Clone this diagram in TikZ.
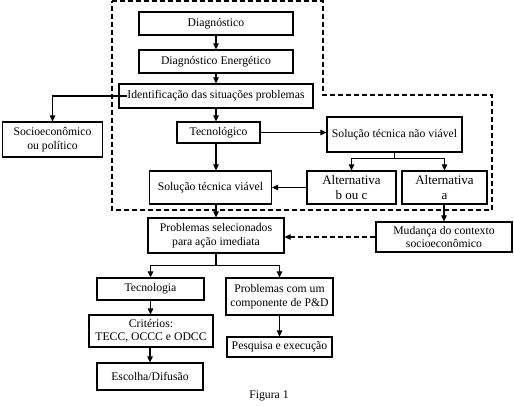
\documentclass[tikz,border=0pt]{standalone}
\usepackage{fontspec}
\setmainfont{LiberationSerif}[Extension=.ttf,UprightFont=*-Regular,BoldFont=*-Bold]
\usetikzlibrary{arrows.meta,calc}
\begin{document}
\begin{tikzpicture}[x=1pt,y=-1pt,
  box/.style={draw,line width=1.2pt,inner sep=0pt,align=center,font=\rmfamily\fontsize{11.7}{13.5}\selectfont},
  arr/.style={line width=1.1pt,-{Triangle[length=6pt,width=5.5pt]}},
  dline/.style={line width=1.1pt,dash pattern=on 5pt off 3pt}]
\useasboundingbox (0,0) rectangle (514,406);
\fill[white] (0,0) rectangle (514,406);
% dashed region
\draw[dline] (112,1) -- (323,1) -- (323,95) -- (492,95) -- (492,210) -- (112,210) -- cycle;
% boxes
\node[box,minimum width=154pt,minimum height=23pt] (diag) at (216,23.5) {Diagnóstico};
\node[box,minimum width=154pt,minimum height=23pt] (diagE) at (216,61.5) {Diagnóstico Energético};
\node[box,minimum width=194pt,minimum height=24pt,fill=white] (ident) at (216,96) {Identificação das situações problemas};
\node[box,minimum width=100pt,minimum height=35pt] (socio) at (52.5,139.5) {Socioeconômico\\ou político};
\node[box,minimum width=83pt,minimum height=21pt] (tecno) at (218.5,132.5) {Tecnológico};
\node[box,minimum width=135pt,minimum height=35pt] (naov) at (394.5,134.5) {Solução técnica não viável};
\node[box,minimum width=89pt,minimum height=33pt,font=\rmfamily\fontsize{13}{14.5}\selectfont] (altbc) at (351.5,187.5) {Alternativa\\b ou c};
\node[box,minimum width=85pt,minimum height=33pt,font=\rmfamily\fontsize{13}{14.5}\selectfont] (alta) at (444.5,187.5) {Alternativa\\a};
\node[box,minimum width=122pt,minimum height=33pt] (viav) at (210.5,187.5) {Solução técnica viável};
\node[box,minimum width=136pt,minimum height=35pt] (probsel) at (216,235.5) {Problemas selecionados\\para ação imediata};
\node[box,minimum width=136pt,minimum height=30pt] (mud) at (444,237) {Mudança do contexto\\socioeconômico};
\node[box,minimum width=107pt,minimum height=22pt] (tecnol) at (150.5,289) {Tecnologia};
\node[box,minimum width=107pt,minimum height=37pt] (pd) at (279.5,296.5) {Problemas com um\\componente de P\&D};
\node[box,minimum width=124pt,minimum height=32pt] (crit) at (151,331) {Critérios:\\TECC, OCCC e ODCC};
\node[box,minimum width=106pt,minimum height=27pt] (escolha) at (150,376.5) {Escolha/Difusão};
\node[box,minimum width=105pt,minimum height=20pt] (pesq) at (279.5,347) {Pesquisa e execução};
\node[font=\rmfamily\fontsize{11.7}{13.5}\selectfont] (fig) at (269,396) {Figura 1};
% connectors
\draw[arr] (diag.south) -- (diagE.north);
\draw[arr] (diagE.south) -- (ident.north);
\coordinate (identin) at ([xshift=9pt]ident.west);
\draw[arr] (identin) -| (socio.north);
\draw[arr] (ident.south) -- (ident.south |- tecno.north);
\draw[arr] (tecno.east) -- (tecno.east -| naov.west);
\draw[arr] (tecno.south -| ident.south) -- (viav.north -| ident.south);
\draw[arr] (naov.south) -- ++(0,6) -| (altbc.north);
\draw[arr] (naov.south) -- ++(0,6) -| (alta.north);
\draw[arr] (altbc.west) -- (viav.east);
\draw[arr] (viav.south -| probsel.north) -- (probsel.north);
\draw[arr] (alta.south -| mud.north) -- (mud.north);
\draw[arr,dash pattern=on 5pt off 3pt] (mud.west) -- (mud.west -| probsel.east);
\draw[arr] (probsel.south) -- ++(0,12) -| (tecnol.north);
\draw[arr] (probsel.south) -- ++(0,12) -| (pd.north);
\draw[arr] (tecnol.south) -- (tecnol.south |- crit.north);
\draw[arr] (crit.south -| escolha.north) -- (escolha.north);
\draw[arr] (pd.south -| pesq.north) -- (pesq.north);
\end{tikzpicture}
\end{document}
